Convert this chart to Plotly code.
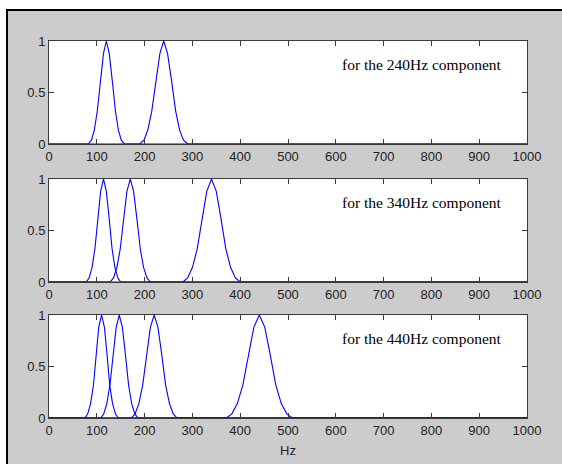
import plotly.graph_objects as go

# Shared bump profile (height values, at half-width steps)
profile_y = [0, 0.04, 0.14, 0.32, 0.61, 0.88, 1.0, 0.88, 0.61, 0.32, 0.14, 0.04, 0]

# Panel 1: 240 Hz component
p240_b1_x = [82, 89, 95, 101, 107.5, 114, 120, 126, 132.5, 139, 145, 151, 158]
p240_b2_x = [190, 199, 207, 215, 223.5, 232, 240, 248, 256.5, 265, 273, 281, 290]

# Panel 2: 340 Hz component
p340_b1_x = [78, 84, 90, 96, 102, 108, 114, 120, 126, 132, 138, 144, 150]
p340_b2_x = [128, 135, 142, 149, 156, 163, 170, 177, 184, 191, 198, 205, 212]
p340_b3_x = [280, 290, 300, 310, 320, 330, 340, 350, 360, 370, 380, 390, 400]

# Panel 3: 440 Hz component
p440_b1_x = [75.5, 81, 87, 93, 98.5, 104, 110, 116, 121.5, 127, 133, 139, 144.5]
p440_b2_x = [108, 114.5, 121, 127.5, 134, 140.5, 147, 153.5, 160, 166.5, 173, 179.5, 186]
p440_b3_x = [172, 180, 188, 196, 204, 212, 220, 228, 236, 244, 252, 260, 268]
p440_b4_x = [371, 382.5, 394, 405.5, 417, 428.5, 440, 451.5, 463, 474.5, 486, 497.5, 509]

panels = [
    ([p240_b1_x, p240_b2_x], "for the 240Hz component"),
    ([p340_b1_x, p340_b2_x, p340_b3_x], "for the 340Hz component"),
    ([p440_b1_x, p440_b2_x, p440_b3_x, p440_b4_x], "for the 440Hz component"),
]

x_min, x_max = 0, 1000
x_ticks = [0, 100, 200, 300, 400, 500, 600, 700, 800, 900, 1000]
y_ticks = [0, 0.5, 1]
y_tick_labels = ["0", "0.5", "1"]

W, H = 562, 464
fig = go.Figure()

x_dom = [49 / W, 527 / W]
panel_px = [(41, 144), (179, 282), (315, 418)]

axis_common = dict(
    showline=True, linecolor="#3a3a3a", linewidth=1, mirror="ticks",
    ticks="inside", ticklen=5, tickcolor="#3a3a3a", showgrid=False, zeroline=False,
    tickfont=dict(family="Liberation Sans, Arial", size=13, color="#222222"),
    automargin=False,
)

for i, (bumps, label) in enumerate(panels):
    n = i + 1
    xa = "x" if n == 1 else f"x{n}"
    ya = "y" if n == 1 else f"y{n}"
    for bx in bumps:
        fig.add_trace(go.Scatter(
            x=[x_min] + bx + [x_max], y=[0] + profile_y + [0],
            mode="lines", line=dict(color="#0000ff", width=1.1),
            xaxis=xa, yaxis=ya, showlegend=False, hoverinfo="skip",
        ))
    top, bot = panel_px[i]
    fig.update_layout(**{
        ("xaxis" if n == 1 else f"xaxis{n}"): dict(
            domain=x_dom, range=[x_min, x_max], tickvals=x_ticks,
            anchor=ya, **axis_common),
        ("yaxis" if n == 1 else f"yaxis{n}"): dict(
            domain=[1 - bot / H, 1 - top / H], range=[0, 1], tickvals=y_ticks,
            ticktext=y_tick_labels, anchor=xa, **axis_common),
    })
    fig.add_annotation(
        x=609, y=0.77, xref=xa, yref=ya, text=label, showarrow=False,
        xanchor="left", yanchor="middle",
        font=dict(family="Liberation Serif, Times New Roman", size=15.5, color="#000000"),
    )

# "Hz" x label
fig.add_annotation(
    x=(x_dom[0] + x_dom[1]) / 2, y=1 - 450 / H, xref="paper", yref="paper",
    text="Hz", showarrow=False, xanchor="center", yanchor="middle",
    font=dict(family="Liberation Sans, Arial", size=13, color="#222222"),
)

# Outer frame: white strip top/left, black border lines
shapes = [
    dict(type="rect", xref="paper", yref="paper", x0=0, x1=1, y0=1 - 9 / H, y1=1,
         fillcolor="white", line=dict(width=0), layer="below"),
    dict(type="rect", xref="paper", yref="paper", x0=0, x1=6 / W, y0=0, y1=1,
         fillcolor="white", line=dict(width=0), layer="below"),
    dict(type="rect", xref="paper", yref="paper", x0=6 / W, x1=1, y0=1 - 11 / H, y1=1 - 9 / H,
         fillcolor="black", line=dict(width=0), layer="below"),
    dict(type="rect", xref="paper", yref="paper", x0=6 / W, x1=8 / W, y0=0, y1=1 - 9 / H,
         fillcolor="black", line=dict(width=0), layer="below"),
]

fig.update_layout(
    width=W, height=H, margin=dict(l=0, r=0, t=0, b=0),
    paper_bgcolor="#cccccc", plot_bgcolor="white",
    template="none", shapes=shapes, showlegend=False,
)

fig.write_html("out.html", config={"displayModeBar": False})
